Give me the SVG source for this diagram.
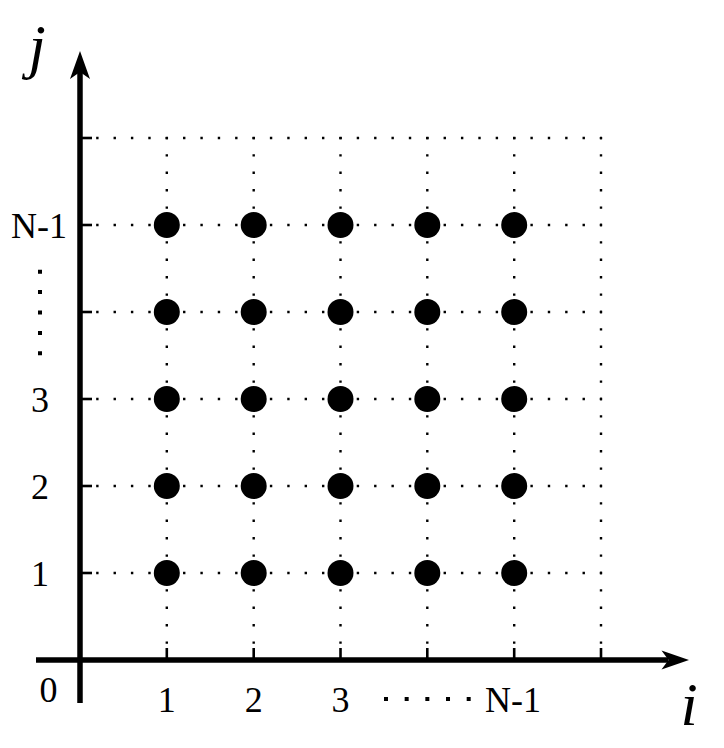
<svg xmlns="http://www.w3.org/2000/svg" width="724" height="748" viewBox="0 0 724 748">
<style>
.grid{stroke:#000;stroke-width:2.4;fill:none}
.gh{stroke-dasharray:2.4 14.97}
.gv{stroke-dasharray:2.4 15}
.axis{stroke:#000;stroke-width:5.5;fill:none}
.tick{stroke:#000;stroke-width:2.6}
.pt{fill:#000}
.lbl{font-family:"Liberation Serif","Times New Roman",serif;font-size:36px;fill:#000;text-anchor:middle}
.var{font-family:"Liberation Serif","Times New Roman",serif;font-size:62px;font-style:italic;fill:#000;text-anchor:middle}
.ell{stroke:#000;stroke-width:4;fill:none}
</style>
<rect width="724" height="748" fill="#fff"/>
<g id="grid">
<line class="grid gh" x1="78.8" y1="138" x2="602" y2="138"/>
<line class="grid gh" x1="78.8" y1="225" x2="602" y2="225"/>
<line class="grid gh" x1="78.8" y1="312" x2="602" y2="312"/>
<line class="grid gh" x1="78.8" y1="399" x2="602" y2="399"/>
<line class="grid gh" x1="78.8" y1="486" x2="602" y2="486"/>
<line class="grid gh" x1="78.8" y1="573" x2="602" y2="573"/>
<line class="grid gv" x1="166.8" y1="661.2" x2="166.8" y2="137"/>
<line class="grid gv" x1="253.7" y1="661.2" x2="253.7" y2="137"/>
<line class="grid gv" x1="340.5" y1="661.2" x2="340.5" y2="137"/>
<line class="grid gv" x1="427.3" y1="661.2" x2="427.3" y2="137"/>
<line class="grid gv" x1="514.2" y1="661.2" x2="514.2" y2="137"/>
<line class="grid gv" x1="601" y1="661.2" x2="601" y2="137"/>
</g>
<g id="axes">
<line class="axis" x1="80" y1="703" x2="80" y2="72"/>
<line class="axis" x1="36" y1="660" x2="668" y2="660"/>
<path d="M80,51 L90,79 L80,72 L70,79 Z" fill="#000"/>
<path d="M689,660 L661.5,650.5 L668.5,660 L661.5,669.5 Z" fill="#000"/>
<line class="tick" x1="80" y1="138" x2="92" y2="138"/>
<line class="tick" x1="80" y1="225" x2="92" y2="225"/>
<line class="tick" x1="80" y1="312" x2="92" y2="312"/>
<line class="tick" x1="80" y1="399" x2="92" y2="399"/>
<line class="tick" x1="80" y1="486" x2="92" y2="486"/>
<line class="tick" x1="80" y1="573" x2="92" y2="573"/>
<line class="tick" x1="166.8" y1="660" x2="166.8" y2="648"/>
<line class="tick" x1="253.7" y1="660" x2="253.7" y2="648"/>
<line class="tick" x1="340.5" y1="660" x2="340.5" y2="648"/>
<line class="tick" x1="427.3" y1="660" x2="427.3" y2="648"/>
<line class="tick" x1="514.2" y1="660" x2="514.2" y2="648"/>
<line class="tick" x1="601" y1="660" x2="601" y2="648"/>
</g>
<g id="points">
<circle class="pt" cx="166.8" cy="225" r="13"/><circle class="pt" cx="253.7" cy="225" r="13"/><circle class="pt" cx="340.5" cy="225" r="13"/><circle class="pt" cx="427.3" cy="225" r="13"/><circle class="pt" cx="514.2" cy="225" r="13"/>
<circle class="pt" cx="166.8" cy="312" r="13"/><circle class="pt" cx="253.7" cy="312" r="13"/><circle class="pt" cx="340.5" cy="312" r="13"/><circle class="pt" cx="427.3" cy="312" r="13"/><circle class="pt" cx="514.2" cy="312" r="13"/>
<circle class="pt" cx="166.8" cy="399" r="13"/><circle class="pt" cx="253.7" cy="399" r="13"/><circle class="pt" cx="340.5" cy="399" r="13"/><circle class="pt" cx="427.3" cy="399" r="13"/><circle class="pt" cx="514.2" cy="399" r="13"/>
<circle class="pt" cx="166.8" cy="486" r="13"/><circle class="pt" cx="253.7" cy="486" r="13"/><circle class="pt" cx="340.5" cy="486" r="13"/><circle class="pt" cx="427.3" cy="486" r="13"/><circle class="pt" cx="514.2" cy="486" r="13"/>
<circle class="pt" cx="166.8" cy="573" r="13"/><circle class="pt" cx="253.7" cy="573" r="13"/><circle class="pt" cx="340.5" cy="573" r="13"/><circle class="pt" cx="427.3" cy="573" r="13"/><circle class="pt" cx="514.2" cy="573" r="13"/>
</g>
<g id="labels">
<text class="var" x="37" y="67">j</text>
<text class="var" x="689" y="725">i</text>
<text class="lbl" x="39" y="238">N-1</text>
<text class="lbl" x="40" y="411.5">3</text>
<text class="lbl" x="40" y="499">2</text>
<text class="lbl" x="40" y="586">1</text>
<text class="lbl" x="48.5" y="701.5">0</text>
<text class="lbl" x="166.8" y="711.5">1</text>
<text class="lbl" x="253.7" y="711.5">2</text>
<text class="lbl" x="340.5" y="711.5">3</text>
<text class="lbl" x="513" y="711.5">N-1</text>
<line class="ell" x1="40" y1="269.7" x2="40" y2="356" stroke-dasharray="4 16.4"/>
<line class="ell" x1="384" y1="699" x2="471" y2="699" stroke-dasharray="4 16.67"/>
</g>
</svg>
